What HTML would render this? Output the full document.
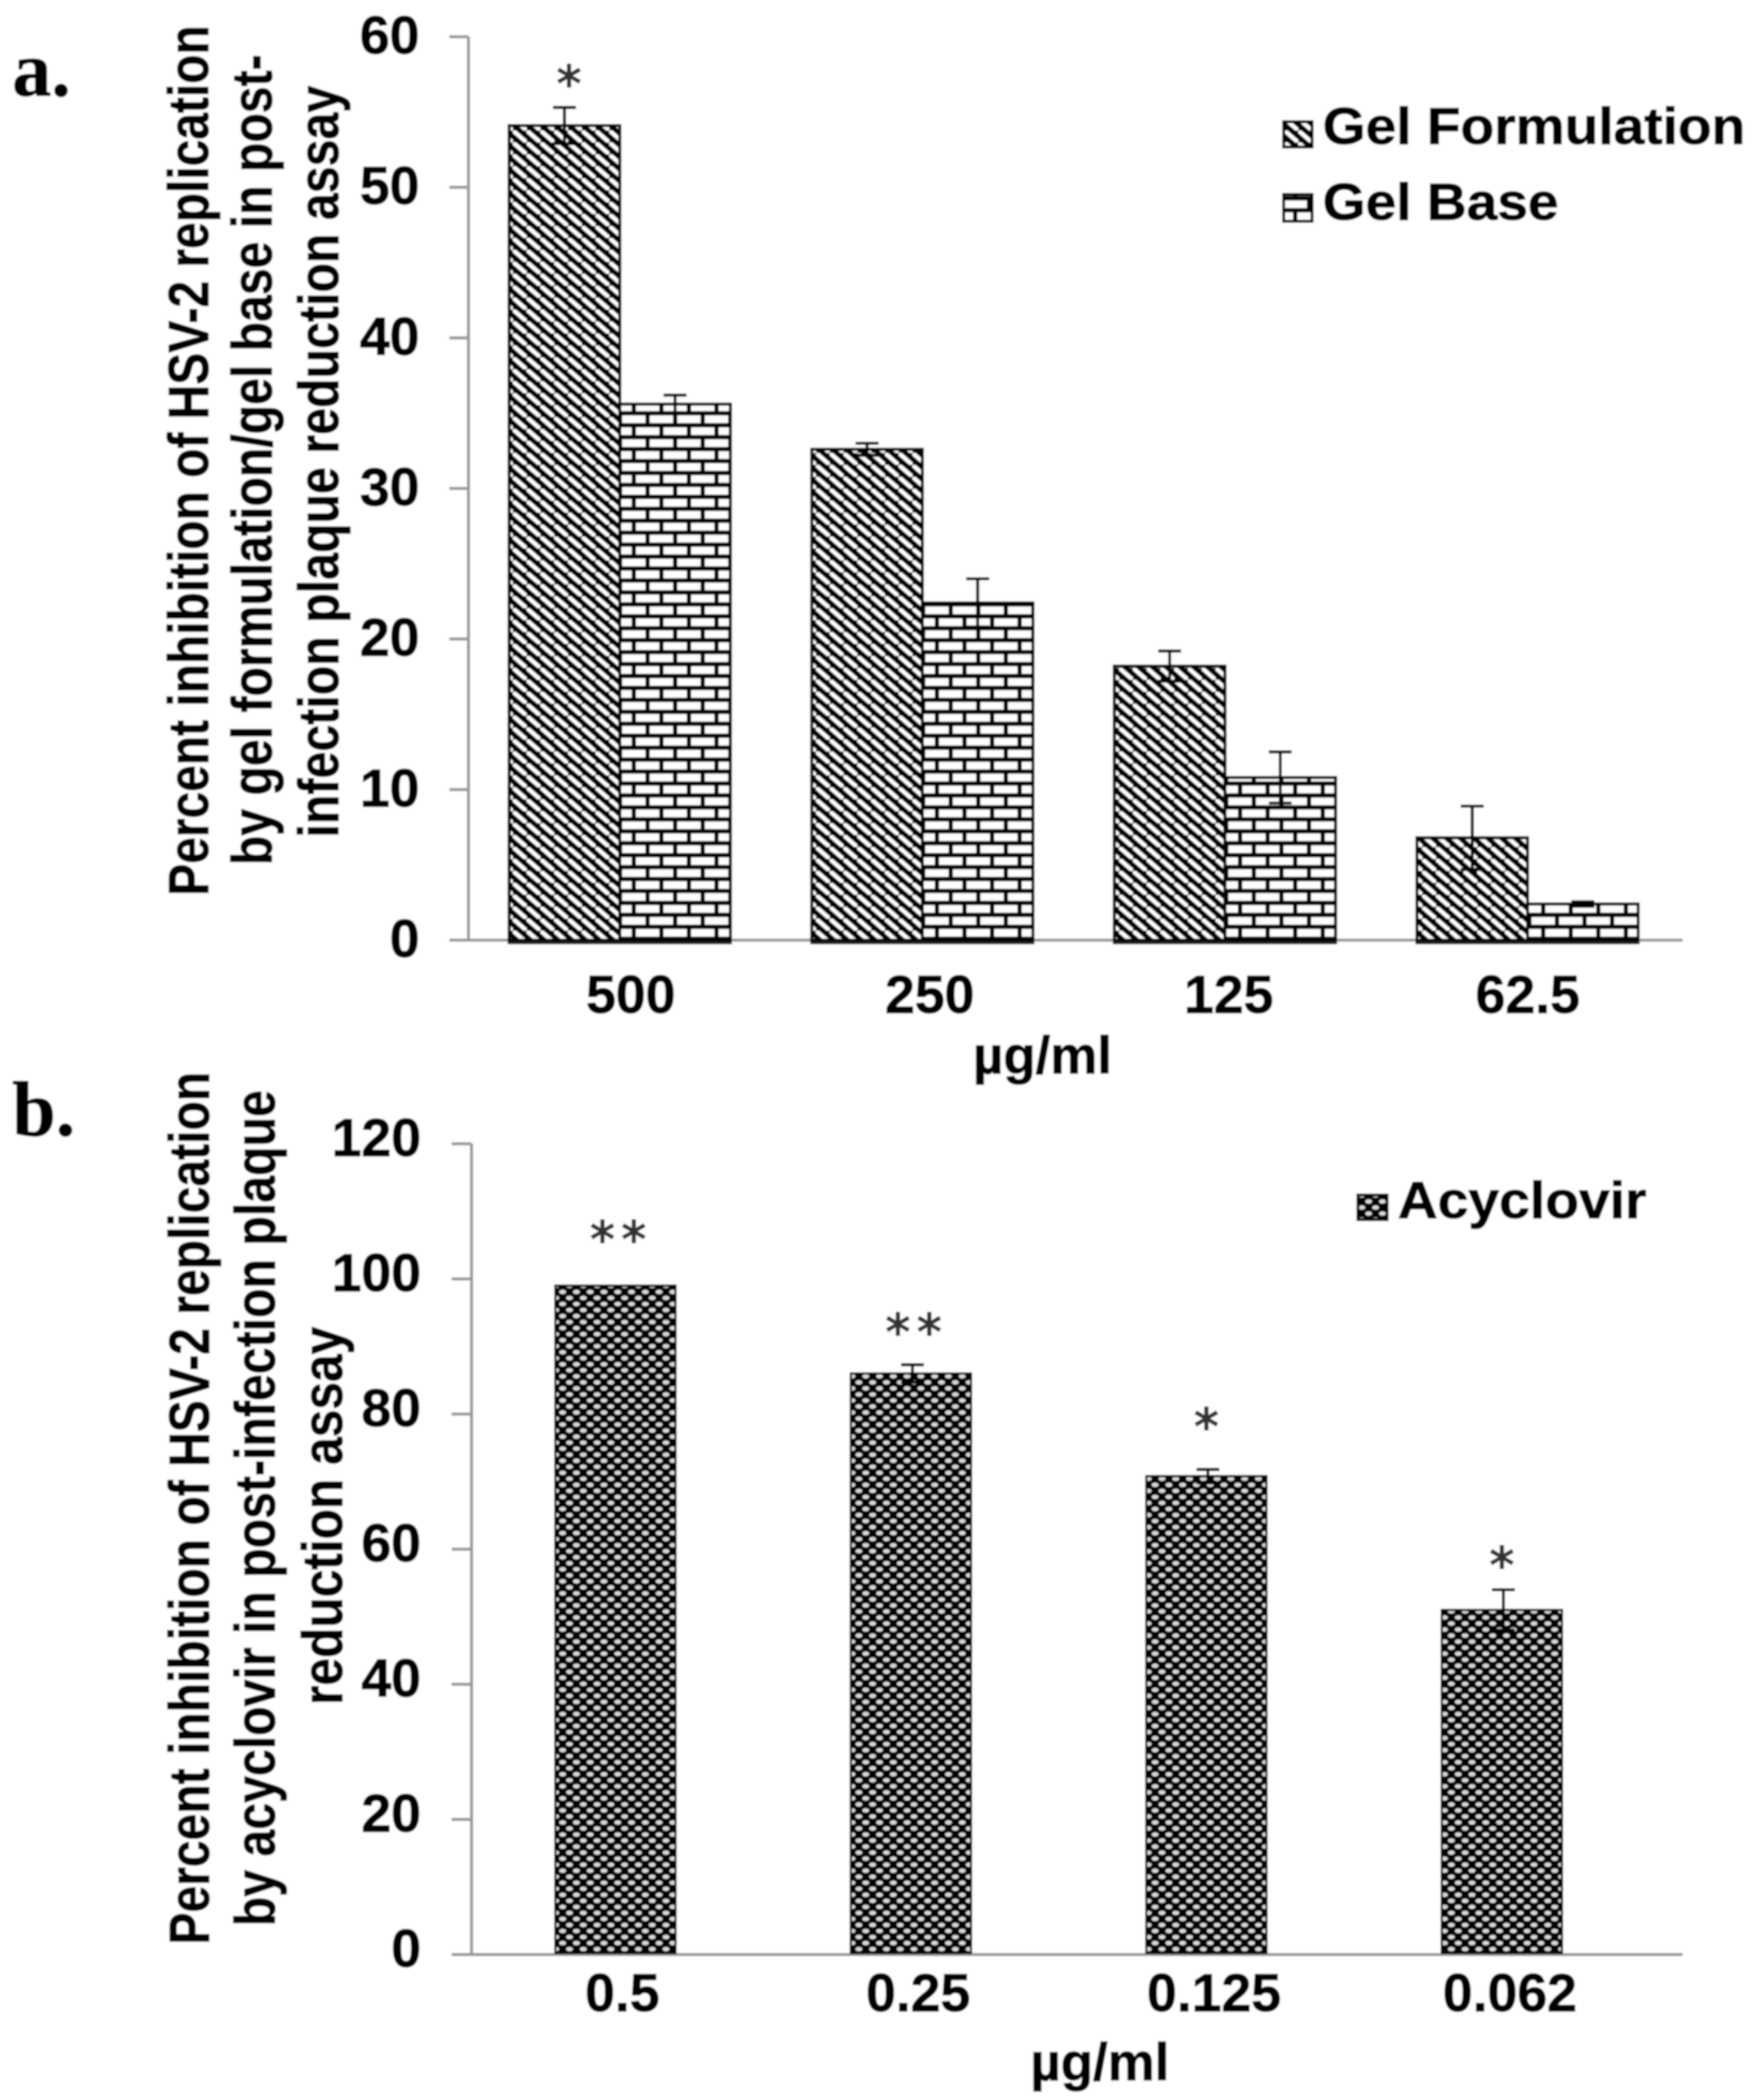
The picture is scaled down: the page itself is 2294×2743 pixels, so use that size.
<!DOCTYPE html>
<html lang="en">
<head>
<meta charset="utf-8">
<title>HSV-2 inhibition charts</title>
<style>
html,body{margin:0;padding:0;background:#fff;}
svg{display:block;}
text{font-family:"Liberation Sans",sans-serif;font-weight:bold;fill:#000;stroke:#000;stroke-width:1.2px;}
</style>
</head>
<body>
<svg id="figure" xmlns="http://www.w3.org/2000/svg" width="2294" height="2743" viewBox="0 0 2294 2743">
  <defs>
    <filter id="soft" filterUnits="userSpaceOnUse" x="0" y="0" width="2294" height="2743"><feGaussianBlur stdDeviation="1"/></filter>
    <pattern id="hatch" patternUnits="userSpaceOnUse" width="18" height="15.6" patternTransform="translate(760,810)">
      <rect width="18" height="15.6" fill="#000"/>
      <path d="M-18,-15.6 L36,31.2" stroke="#fff" stroke-width="5.2" fill="none"/>
    </pattern>
    <pattern id="brick" patternUnits="userSpaceOnUse" width="36" height="31.2" patternTransform="translate(828,805)">
      <rect width="36" height="31.2" fill="#fff"/>
      <path d="M-1,0H37M-1,15.6H37M-1,31.2H37M0,0V15.6M36,0V15.6M18,15.6V31.2" stroke="#000" stroke-width="5.6" fill="none"/>
    </pattern>
    <pattern id="dots" patternUnits="userSpaceOnUse" width="18" height="15.75" patternTransform="translate(735,1782)">
      <rect width="18" height="15.75" fill="#000"/>
      <g fill="#dcdcdc">
        <ellipse cx="0" cy="0" rx="4.4" ry="2.8"/><ellipse cx="18" cy="0" rx="4.4" ry="2.8"/>
        <ellipse cx="0" cy="15.75" rx="4.4" ry="2.8"/><ellipse cx="18" cy="15.75" rx="4.4" ry="2.8"/>
        <ellipse cx="9" cy="7.875" rx="4.4" ry="2.8"/>
      </g>
    </pattern>
  </defs>
  <g id="root" filter="url(#soft)">
    <rect width="2294" height="2743" fill="#fff"/>

    <text x="16" y="125" style="font-family:'Liberation Serif',serif;font-size:102px">a.</text>
    <text x="16" y="1483" style="font-family:'Liberation Serif',serif;font-size:102px">b.</text>

    <g font-size="74">
      <text transform="translate(272,1170) rotate(-90)" textLength="1137" lengthAdjust="spacingAndGlyphs">Percent inhibition of HSV-2 replication</text>
      <text transform="translate(355,1130) rotate(-90)" textLength="1059" lengthAdjust="spacingAndGlyphs">by gel formulation/gel base in post-</text>
      <text transform="translate(442,1094) rotate(-90)" textLength="982" lengthAdjust="spacingAndGlyphs">infection plaque reduction assay</text>
    </g>
    <g font-size="74">
      <text transform="translate(273,2540) rotate(-90)" textLength="1140" lengthAdjust="spacingAndGlyphs">Percent inhibition of HSV-2 replication</text>
      <text transform="translate(359,2516) rotate(-90)" textLength="1092" lengthAdjust="spacingAndGlyphs">by acyclovir in post-infection plaque</text>
      <text transform="translate(447,2227) rotate(-90)" textLength="494" lengthAdjust="spacingAndGlyphs">reduction assay</text>
    </g>

    <text x="1271" y="1402" font-size="69">µg/ml</text>
    <text x="1346" y="2717" font-size="69">µg/ml</text>

    <g>
      <rect x="1677" y="159" width="37" height="33" fill="url(#hatch)" stroke="#000" stroke-width="4"/>
      <text x="1728" y="188" font-size="68" textLength="552" lengthAdjust="spacingAndGlyphs">Gel Formulation</text>
      <rect x="1677" y="254" width="37" height="35" fill="url(#brick)" stroke="#000" stroke-width="4"/>
      <text x="1728" y="287" font-size="68" textLength="308" lengthAdjust="spacingAndGlyphs">Gel Base</text>
    </g>
    <g>
      <rect x="1774" y="1561" width="38" height="32" fill="url(#dots)" stroke="#000" stroke-width="4"/>
      <text x="1826" y="1591" font-size="68" textLength="325" lengthAdjust="spacingAndGlyphs">Acyclovir</text>
    </g>

    <g id="chart-a"></g>
    <g id="chart-b"></g>
  </g>
</svg>
<script>
var categoriesA = ['500', '250', '125', '62.5'];
var gelFormulation = [54.1, 32.6, 18.2, 6.8];
var gelFormulationErr = [1.2, 0.4, 1.0, 2.1];
var gelBase = [35.6, 22.4, 10.8, 2.4];
var gelBaseErr = [0.6, 1.6, 1.7, 0.15];
var starsA = ['*', '', '', ''];
var starLevelsA = [57.4, 0, 0, 0];
var yTicksA = [0, 10, 20, 30, 40, 50, 60];

var categoriesB = ['0.5', '0.25', '0.125', '0.062'];
var acyclovir = [99.0, 86.0, 70.8, 51.0];
var acyclovirErr = [0, 1.3, 1.0, 3.0];
var starsB = ['**', '**', '*', '*'];
var starLevelsB = [107, 93.3, 79.3, 58.8];
var yTicksB = [0, 20, 40, 60, 80, 100, 120];

var NS = 'http://www.w3.org/2000/svg';

function mk(tag, attrs, parent) {
  var el = document.createElementNS(NS, tag);
  for (var k in attrs) { el.setAttribute(k, attrs[k]); }
  parent.appendChild(el);
  return el;
}

function yA(v) { return 1228 - v * (1180 / 60); }
function xA(i) { return 612 + (i + 0.5) * 395.3; }
function xLabelA(i) { return 824 + i * 390.6; }
function yB(v) { return 2553 - v * (1059 / 120); }
function xB(i) { return 611 + (i + 0.5) * 386; }
function xLabelB(i) { return 813 + i * 386.5; }

function errorBar(parent, cx, top, bottom) {
  var g = mk('path', {
    d: 'M' + cx + ',' + top + 'V' + bottom + 'M' + (cx - 15) + ',' + top + 'H' + (cx + 15) + 'M' + (cx - 15) + ',' + bottom + 'H' + (cx + 15),
    stroke: '#000', 'stroke-width': 4, fill: 'none'
  }, parent);
  
  
}

function star(parent, cx, cy, s) {
  if (!s) { return; }
  var t = mk('text', { x: cx, y: cy + 33, 'text-anchor': 'middle', 'letter-spacing': s.length > 1 ? 9 : 0 }, parent);
  
  
  t.style.fontFamily = '"DejaVu Sans",sans-serif';
  t.style.fontWeight = 'normal';
  t.style.fontSize = '64px';
  t.style.fill = '#333';
  t.style.stroke = '#333';
  t.style.strokeWidth = '2px';
  t.textContent = s;
}

function axes(parent, yFn, ticks, axisX, tickX0, xEnd, labelX, labelDy) {
  var vLine = mk('line', { x1: axisX, x2: axisX, y1: yFn(ticks[ticks.length - 1]), y2: yFn(0), stroke: '#999', 'stroke-width': 4 }, parent);
  
  
  var hLine = mk('line', { x1: tickX0, x2: xEnd, y1: yFn(0), y2: yFn(0), stroke: '#999', 'stroke-width': 4 }, parent);
  
  
  ticks.forEach(function (t) {
    var tick = mk('line', { x1: tickX0, x2: axisX, y1: yFn(t), y2: yFn(t), stroke: '#999', 'stroke-width': 4 }, parent);
    
    
    var lab = mk('text', { x: labelX, y: yFn(t) + labelDy, 'text-anchor': 'end', 'font-size': 70 }, parent);
    
    
    lab.textContent = t;
  });
}

var chartA = document.getElementById('chart-a');
axes(chartA, yA, yTicksA, 612, 587, 2198, 548, 22);

categoriesA.forEach(function (c, i) {
  var cx = xA(i);
  var w = 144.5;
  var b1 = mk('rect', { x: cx - w, y: yA(gelFormulation[i]), width: w, height: yA(0) - yA(gelFormulation[i]), fill: 'url(#hatch)', stroke: '#000', 'stroke-width': 4 }, chartA);
  
  
  var b2 = mk('rect', { x: cx, y: yA(gelBase[i]), width: w, height: yA(0) - yA(gelBase[i]), fill: 'url(#brick)', stroke: '#000', 'stroke-width': 4 }, chartA);
  
  
  var strip = mk('rect', { x: cx - w - 2, y: yA(0) + 1.5, width: 2 * w + 4, height: 4, fill: '#222' }, chartA);
  
  
  errorBar(chartA, cx - w / 2, yA(gelFormulation[i] + gelFormulationErr[i]), yA(gelFormulation[i] - gelFormulationErr[i]));
  errorBar(chartA, cx + w / 2, yA(gelBase[i] + gelBaseErr[i]), yA(gelBase[i] - gelBaseErr[i]));
  star(chartA, cx - w / 2 + 6, yA(starLevelsA[i]), starsA[i]);
  var lab = mk('text', { x: xLabelA(i), y: 1323, 'text-anchor': 'middle', 'font-size': 70 }, chartA);
  
  
  lab.textContent = c;
});

var chartB = document.getElementById('chart-b');
axes(chartB, yB, yTicksB, 616, 590, 2198, 550, 16);

categoriesB.forEach(function (c, i) {
  var cx = xB(i);
  var w = 157;
  var bar = mk('rect', { x: cx - w / 2, y: yB(acyclovir[i]), width: w, height: yB(0) - yB(acyclovir[i]) - 2, fill: 'url(#dots)', stroke: '#000', 'stroke-width': 3 }, chartB);
  
  
  if (acyclovirErr[i] > 0) {
    errorBar(chartB, cx + 2, yB(acyclovir[i] + acyclovirErr[i]), yB(acyclovir[i] - acyclovirErr[i]));
  }
  star(chartB, cx + (starsB[i].length > 1 ? 8 : 0), yB(starLevelsB[i]), starsB[i]);
  var lab = mk('text', { x: xLabelB(i), y: 2627, 'text-anchor': 'middle', 'font-size': 70 }, chartB);
  
  
  lab.textContent = c;
});
</script>
</body>
</html>
